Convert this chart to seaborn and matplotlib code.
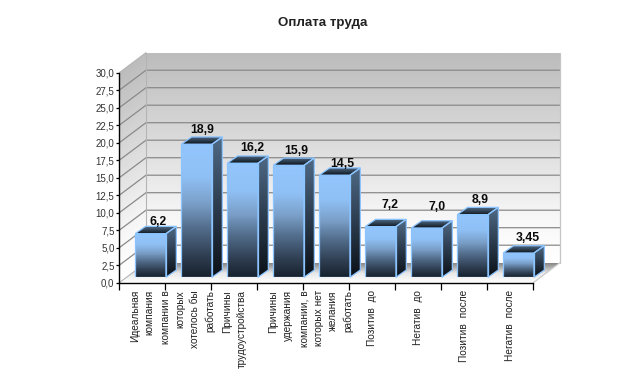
import numpy as np
import pandas as pd
import matplotlib
matplotlib.use("Agg")
import matplotlib.pyplot as plt
import seaborn as sns
from matplotlib.colors import LinearSegmentedColormap
from matplotlib.patches import Polygon

categories = [
    "Идеальная\nкомпания",
    "компании в\nкоторых\nхотелось бы\nработать",
    "Причины\nтрудоустройства",
    "Причины\nудержания",
    "компании, в\nкоторых нет\nжелания\nработать",
    "Позитив  до",
    "Негатив  до",
    "Позитив  после",
    "Негатив  после",
]
values = [6.2, 18.9, 16.2, 15.9, 14.5, 7.2, 7.0, 8.9, 3.45]
value_labels = ["6,2", "18,9", "16,2", "15,9", "14,5", "7,2", "7,0", "8,9", "3,45"]
y_ticks = [0, 2.5, 5, 7.5, 10, 12.5, 15, 17.5, 20, 22.5, 25, 27.5, 30]
y_tick_labels = ["0,0", "2,5", "5,0", "7,5", "10,0", "12,5", "15,0", "17,5",
                 "20,0", "22,5", "25,0", "27,5", "30,0"]

# where each value label sits relative to its bar top, in pixels
label_dx = [8, 5.5, 10, 8, 7.7, 9.7, 10, 8, 9.6]
label_dy = [12, 14.6, 15.6, 14.6, 11.3, 22, 21, 15, 15]

W, H = 644, 376
sns.set_style("white")
plt.rcParams["font.family"] = ["Liberation Sans", "DejaVu Sans"]

front_cmap = LinearSegmentedColormap.from_list("front", [(0, "#93c6fd"), (0.25, "#8fc0f5"), (0.45, "#7a9fc8"),
                                                         (0.65, "#506a88"), (0.85, "#2e3d50"), (1, "#18222e")])
side_cmap = LinearSegmentedColormap.from_list("side", ["#4f6a86", "#2c3c4e", "#0b1016"])
top_cmap = LinearSegmentedColormap.from_list("top", ["#0d141b", "#54708d"])
wall_cmap = LinearSegmentedColormap.from_list("wall", [(0, "#ffffff"), (0.2, "#f8f8f8"), (0.6, "#dadada"), (1, "#bcbcbc")])
floor_cmap = LinearSegmentedColormap.from_list("floor", ["#ffffff", "#e8e8e8", "#858585"])


def px_axes(fig, left, bottom_y, width, height):
    # position given in image pixels, y measured from the top
    return fig.add_axes([left / W, (H - bottom_y) / H, width / W, height / H])


def shade(ax, pts, grad, cmap, zorder):
    # fill a polygon with a gradient, clipped to its shape
    pts = np.array(pts)
    poly = Polygon(pts, closed=True, transform=ax.transData, fc="none", ec="none")
    ax.add_patch(poly)
    im = ax.imshow(grad, cmap=cmap, vmin=0, vmax=1, aspect="auto", origin="lower",
                   extent=(pts[:, 0].min(), pts[:, 0].max(), pts[:, 1].min(), pts[:, 1].max()),
                   zorder=zorder, interpolation="bilinear")
    im.set_clip_box(ax.figure.bbox)
    im.set_clip_path(poly)


vert = np.linspace(0, 1, 128).reshape(-1, 1)

fig = plt.figure(figsize=(W / 100, H / 100), dpi=100, facecolor="white")

# front plane of the chart: axis, ticks and labels
ax = px_axes(fig, 119.3, 282.7, 414, 210)
ax.patch.set_alpha(0)
xlim, ylim = (-0.5, 8.5), (0, 30)
wall_dx, wall_dy = 26.7 / 46, 20 / 7

x0, x1 = xlim
back_l, back_r = x0 + wall_dx, x1 + wall_dx
back_b, back_t = wall_dy, 30 + wall_dy

# back wall, left wall (gradient sheared along the depth) and floor
ax.set_xlim(xlim)
ax.set_ylim(ylim)
shade(ax, [(back_l, back_b), (back_r, back_b), (back_r, back_t), (back_l, back_t)],
      vert, wall_cmap, 1)
u = np.linspace(0, 1, 64)
v = np.linspace(0, 1, 256)
uu, vv = np.meshgrid(u, v)
shade(ax, [(x0, 0), (back_l, back_b), (back_l, back_t), (x0, 30)],
      np.clip((vv * (30 + wall_dy) - uu * wall_dy) / 30, 0, 1), wall_cmap, 1)
shade(ax, [(x0, 0), (x1, 0), (back_r, back_b), (back_l, back_b)], vert, floor_cmap, 1)

# grid runs along the left wall, then along the back wall
for t in y_ticks[1:-1]:
    ax.plot([x0, back_l, back_r], [t, t + wall_dy, t + wall_dy], color="#8a8a8a", lw=0.9,
            clip_on=False, zorder=2, solid_joinstyle="miter")
ax.plot([x0, back_l], [30, back_t], color="#b4b4b4", lw=0.8, clip_on=False, zorder=2)
ax.plot([back_l, back_l], [back_b, back_t], color="#b4b4b4", lw=0.8, clip_on=False, zorder=2)
ax.plot([back_r, back_r], [back_b, back_t], color="#c4c4c4", lw=0.9, clip_on=False, zorder=2)
ax.plot([x1, back_r], [0, back_b], color="#cccccc", lw=0.9, clip_on=False, zorder=2)
ax.plot([x0, back_l], [0, back_b], color="#b4b4b4", lw=0.8, clip_on=False, zorder=2)

ax.set_xlim(xlim)
ax.set_ylim(ylim)
ax.set_yticks(y_ticks)
ax.set_yticklabels(y_tick_labels, fontsize=7, color="#333333")
ax.set_xticks(np.arange(0, 10) - 0.5)
ax.set_xticklabels([""] * 10)
ax.tick_params(axis="x", length=5, width=0.9, color="black", bottom=True, pad=2)
ax.tick_params(axis="y", length=2, width=0.9, color="black", left=True, pad=1.5)
for s in ["top", "right"]:
    ax.spines[s].set_visible(False)
for s in ["left", "bottom"]:
    ax.spines[s].set_color("black")
    ax.spines[s].set_linewidth(1.0)

for i, cat in enumerate(categories):
    ax.annotate(cat, (i, 0), xytext=(0, -5.3), xycoords=("data", "data"),
                textcoords="offset points", rotation=90, ha="center", va="top",
                multialignment="right", fontsize=7.3, color="#222222", linespacing=1.55,
                annotation_clip=False)

# bars stand on their own plane, a little behind the axis
ax_b = px_axes(fig, 127.6, 277.3, 414, 211.2)
ax_b.patch.set_alpha(0)
df = pd.DataFrame({"cat": [str(i) for i in range(len(values))], "value": values})
sns.barplot(data=df, x="cat", y="value", ax=ax_b, width=0.667, color="#93c6fd",
            saturation=1, edgecolor="#8cc4ff", linewidth=0.9, zorder=6)
ax_b.set_xlim(xlim)
ax_b.set_ylim(ylim)
ax_b.axis("off")

bar_dx, bar_dy = 10.4 / 46, 7.3 / 7.04
for i, bar in enumerate(list(ax_b.patches)):
    l, r = bar.get_x(), bar.get_x() + bar.get_width()
    top = bar.get_height()
    bar.set_facecolor("none")
    shade(ax_b, [(l, 0), (r, 0), (r, top), (l, top)], 1 - vert, front_cmap, 4)
    side = [(r, 0), (r + bar_dx, bar_dy), (r + bar_dx, top + bar_dy), (r, top)]
    shade(ax_b, side, 1 - vert, side_cmap, 4)
    lid = [(l, top), (r, top), (r + bar_dx, top + bar_dy), (l + bar_dx, top + bar_dy)]
    shade(ax_b, lid, vert, top_cmap, 4)
    ax_b.add_patch(Polygon(side, closed=True, fc="none", ec="#8cc4ff", lw=0.9, zorder=5, clip_on=False))
    ax_b.add_patch(Polygon(lid, closed=True, fc="none", ec="#8cc4ff", lw=0.9, zorder=5, clip_on=False))
    ax_b.annotate(value_labels[i], ((l + r) / 2, top), xytext=(label_dx[i] * 0.72, label_dy[i] * 0.72),
                  textcoords="offset points", ha="center", va="center", fontsize=8.8,
                  fontweight="bold", color="#0a0a0a", annotation_clip=False, zorder=7)
ax_b.set_xlim(xlim)
ax_b.set_ylim(ylim)

fig.text(323 / W, 1 - 23 / H, "Оплата труда", ha="center", va="center", fontsize=9.6,
         fontweight="bold", color="#222222")

fig.savefig("out.png", dpi=100, facecolor="white")
